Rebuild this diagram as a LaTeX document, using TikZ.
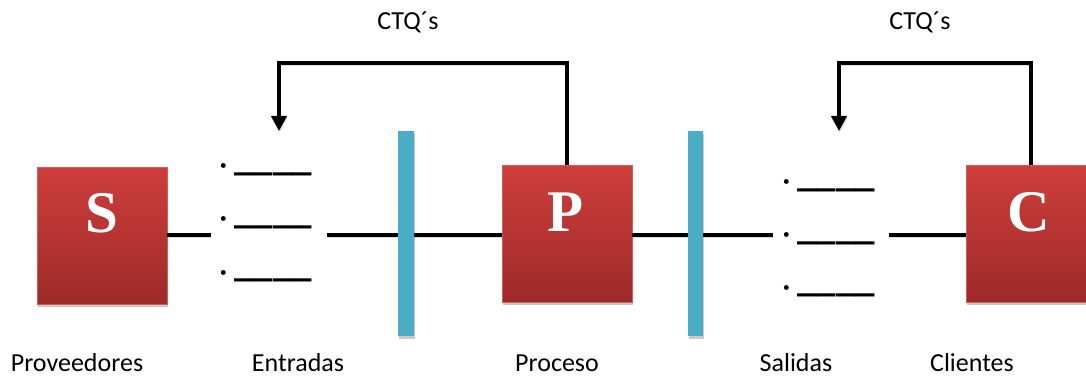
\documentclass[tikz,border=0pt]{standalone}
\usepackage{fontspec}
\setmainfont{Carlito}
\newfontfamily\boxfont{Liberation Serif}
\usetikzlibrary{arrows.meta,shadows}
\definecolor{boxtop}{HTML}{CE3E3B}
\definecolor{boxbot}{HTML}{9C2B29}
\definecolor{boxedge}{HTML}{D55B56}
\definecolor{barblue}{HTML}{4BACC6}
\tikzset{
  stage/.style={rectangle, minimum width=130pt, minimum height=137pt, inner sep=0pt,
    top color=boxtop, bottom color=boxbot, draw=boxedge, line width=0.8pt,
    drop shadow={shadow xshift=1pt, shadow yshift=-3pt, opacity=0.3, fill=black!70}},
  letter/.style={font=\boxfont\bfseries\fontsize{59}{59}\selectfont, text=white, inner sep=0pt, anchor=base},
  gate/.style={rectangle, fill=barblue, minimum width=15.6pt, minimum height=205pt, inner sep=0pt,
    drop shadow={shadow xshift=1pt, shadow yshift=-3pt, opacity=0.3, fill=black!70}},
  gap/.style={rectangle, minimum width=116pt, minimum height=130pt, inner sep=0pt},
  lshadow/.style={preaction={draw=black!40, opacity=0.35, transform canvas={xshift=0.5pt, yshift=-2pt}}},
  link/.style={line width=4pt, lshadow},
  feedback/.style={line width=4pt, line join=miter, lshadow, -{Triangle[width=15pt,length=15pt]}},
  lab/.style={font=\fontsize{26}{26}\selectfont, anchor=base, inner sep=0pt},
  ctq/.style={font=\fontsize{26}{26}\selectfont, anchor=base, inner sep=0pt},
  dot/.style={font=\fontsize{34}{34}\selectfont, anchor=north, inner sep=0pt},
  blank/.style={font=\bfseries\fontsize{39}{39}\selectfont, anchor=south west, inner sep=0pt},
}
\begin{document}
\begin{tikzpicture}[x=1pt,y=-1pt]
\clip (0,0) rectangle (1086,377);

% supplier, process and customer blocks
\node[stage] (S) at (102,235.5) {};
\node[stage] (P) at (567,233.5) {};
\node[stage] (C) at (1031,233.5) {};
\node[letter] (Sl) at (102,232.5) {S};
\node[letter] (Pl) at (566,231) {P};
\node[letter] (Cl) at (1029,231.5) {C};

% inputs and outputs lists
\node[gap] (ent) at (269,235) {};
\node[gap] (sal) at (831,235) {};
\foreach \i/\yb/\yu in {1/163/176,2/216.5/229.5,3/270/282}{
  \node[dot] (eb\i) at (223.3,\yb) {·};
  \node[blank] (eu\i) at (234,\yu) {\_\_\_\_};
}
\foreach \i/\yb/\yu in {1/179.5/192,2/232/245.5,3/285/297.5}{
  \node[dot] (sb\i) at (786.5,\yb) {·};
  \node[blank] (su\i) at (797,\yu) {\_\_\_\_};
}

% main flow line
\draw[link] (S.east |- ent.west) -- (ent.west);
\draw[link] (ent.east) -- (P.west |- ent.east);
\draw[link] (P.east |- sal.west) -- (sal.west);
\draw[link] (sal.east) -- (C.west |- sal.east);

% requirement feedback loops
\coordinate (inTop) at (279,63);
\coordinate (inTip) at (279,131);
\coordinate (outTop) at (839,63);
\coordinate (outTip) at (839,131);
\draw[feedback] (P.north) |- (inTop) -- (inTip);
\draw[feedback] (C.north) |- (outTop) -- (outTip);

% boundaries between the stages
\node[gate] (g1) at (406,233.5) {};
\node[gate] (g2) at (695.5,233.5) {};

% captions
\node[ctq] (q1) at (408,30) {CTQ´s};
\node[ctq] (q2) at (920,30) {CTQ´s};
\node[lab] (lS) at (77,371) {Proveedores};
\node[lab] (lE) at (298,371) {Entradas};
\node[lab] (lP) at (557,371) {Proceso};
\node[lab] (lSa) at (796,371) {Salidas};
\node[lab] (lC) at (972,371) {Clientes};
\end{tikzpicture}
\end{document}
